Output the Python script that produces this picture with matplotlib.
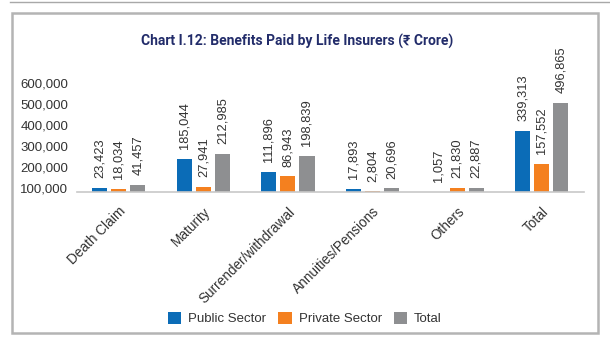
import matplotlib
matplotlib.use("Agg")
import matplotlib.pyplot as plt
import matplotlib.patches as mpatches
from matplotlib.lines import Line2D
import numpy as np

# Benefits paid by life insurers, Rs crore
categories = ["Death Claim", "Maturity", "Surrender/withdrawal",
              "Annuities/Pensions", "Others", "Total"]
public_sector = [23423, 185044, 111896, 17893, 1057, 339313]
private_sector = [18034, 27941, 86943, 2804, 21830, 157552]
total = [41457, 212985, 198839, 20696, 22887, 496865]

# y-axis labels as printed, and where they sit on the value scale
ytick_labels = ["100,000", "200,000", "300,000", "400,000", "500,000", "600,000"]
ytick_pos = [24000, 140000, 257000, 374000, 490000, 607000]

COLORS = {
    "public": "#0b6cb7",
    "private": "#f4801f",
    "total": "#8e8f91",
    "title": "#222c6a",
    "text": "#333333",
    "axis": "#c8c8c8",
    "frame": "#b4b4b4",
}

FONT = ["Liberation Sans", "DejaVu Sans"]

W, H = 610, 349
fig = plt.figure(figsize=(W / 100, H / 100), dpi=100)
fig.patch.set_facecolor("white")

# outer frame
fig.add_artist(Line2D([10 / W, 1.0], [1 - 2 / H, 1 - 2 / H],
                      transform=fig.transFigure, color="#a8a8a8", lw=1.0))
fig.add_artist(mpatches.Rectangle((12 / W, 1 - 333 / H), (598 - 12) / W, (333 - 13) / H,
                                  transform=fig.transFigure, fill=False,
                                  edgecolor=COLORS["frame"], lw=1.8))

fig.text(297 / W, 1 - 41.5 / H, "Chart I.12: Benefits Paid by Life Insurers (₹ Crore)",
         ha="center", va="center", color=COLORS["title"], fontsize=10,
         fontweight="bold", family=["Roboto", "DejaVu Sans"])

ax_left, ax_right = 76.5 / W, 584 / W
ax_bottom, ax_top = 1 - 192 / H, 1 - 75 / H
ax = fig.add_axes([ax_left, ax_bottom, ax_right - ax_left, ax_top - ax_bottom])

x = np.arange(len(categories))
bw = 0.178
off = 0.225
series = [
    (public_sector, -off, COLORS["public"], "Public Sector"),
    (private_sector, 0.0, COLORS["private"], "Private Sector"),
    (total, off, COLORS["total"], "Total"),
]
for vals, dx, col, name in series:
    bars = ax.bar(x + dx, vals, bw, color=col, label=name, zorder=2)
    for b, v in zip(bars, vals):
        ax.annotate(f"{v:,}", xy=(b.get_x() + b.get_width() / 2, v),
                    xytext=(0, 7), textcoords="offset points",
                    rotation=90, ha="center", va="bottom",
                    fontsize=9.3, color=COLORS["text"], family=FONT,
                    annotation_clip=False)

ax.set_xlim(-0.5, 5.5)
ax.set_ylim(0, 650000)

for side in ["top", "right", "left"]:
    ax.spines[side].set_visible(False)
ax.spines["bottom"].set_color(COLORS["axis"])
ax.spines["bottom"].set_linewidth(1.2)

ax.set_yticks(ytick_pos)
ax.set_yticklabels(ytick_labels)
ax.tick_params(axis="y", length=0, pad=6, labelsize=9.5, labelcolor=COLORS["text"])
ax.set_xticks(x)
ax.set_xticklabels(categories, rotation=45, ha="right", rotation_mode="anchor")
ax.tick_params(axis="x", length=0, pad=9, labelsize=9.8, labelcolor=COLORS["text"])
for lbl in ax.get_xticklabels() + ax.get_yticklabels():
    lbl.set_family(FONT)

fig.legend(loc="center", bbox_to_anchor=(305 / W, 1 - 318.5 / H), ncol=3,
           frameon=False, prop={"family": FONT, "size": 9.5},
           handlelength=1.0, handleheight=1.0, handletextpad=0.55,
           columnspacing=0.9, labelcolor=COLORS["text"])

fig.savefig("out.png", dpi=100, facecolor="white")
